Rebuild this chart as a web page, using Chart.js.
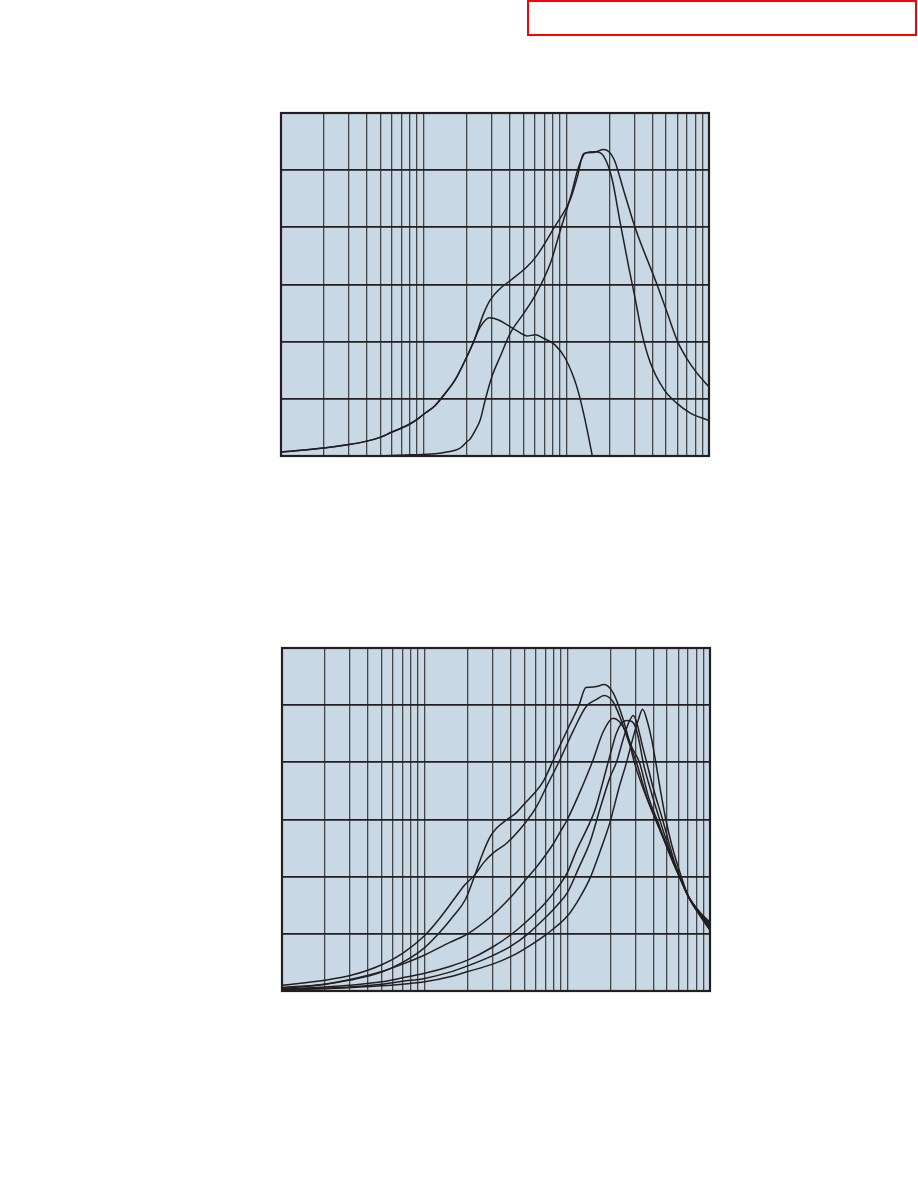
<!DOCTYPE html>
<html>
<head>
<meta charset="utf-8">
<script src="https://cdn.jsdelivr.net/npm/chart.js@4/dist/chart.umd.min.js"></script>
<style>
  body { margin: 0; background: #fff; width: 918px; height: 1188px; position: relative; overflow: hidden; }
  .box { position: absolute; left: 527px; top: 0; width: 390px; height: 36px; border: 2px solid #ff0000; box-sizing: border-box; }
  .plot { position: absolute; width: 438px; height: 353px; }
</style>
</head>
<body>
<div class="box"></div>
<div class="plot" style="left:276px;top:108px"><canvas id="upper"></canvas></div>
<div class="plot" style="left:277px;top:643px"><canvas id="lower"></canvas></div>
<script>
// grid positions (log frequency axis, 3 decades) and level range
const xTicks = [1, 2, 3, 4, 5, 6, 7, 8, 9, 10, 20, 30, 40, 50, 60, 70, 80, 90, 100,
  200, 300, 400, 500, 600, 700, 800, 900, 1000]
const yTicks = [0, 1, 2, 3, 4, 5, 6]

// upper chart
const upAFreq = [1, 2, 3, 4, 5, 6, 7, 8, 9, 10, 12, 14, 16.6, 20.1, 22.4, 26.3, 29.3, 34.4, 40.5, 53, 62.3, 81.5, 107, 120, 132, 155, 183, 215, 252, 305, 432, 510, 603, 701, 824, 1000]
const upAVal = [0.07, 0.14, 0.2, 0.26, 0.33, 0.42, 0.49, 0.56, 0.64, 0.73, 0.88, 1.08, 1.33, 1.74, 2.0, 2.49, 2.73, 2.93, 3.07, 3.31, 3.51, 3.98, 4.5, 4.9, 5.29, 5.31, 5.36, 5.2, 4.65, 3.98, 3.0, 2.5, 2.0, 1.7, 1.45, 1.21]

const upBFreq = [1, 5, 8, 12, 16.6, 18.1, 20.1, 21.2, 23, 24.9, 27, 30.1, 34.4, 40.5, 50.1, 60.5, 77.3, 90.8, 107, 122, 136, 160, 183, 209, 239, 274, 305, 339, 388, 484, 597, 740, 1000]
const upBVal = [0, 0.005, 0.02, 0.04, 0.1, 0.14, 0.25, 0.3, 0.45, 0.63, 0.98, 1.39, 1.74, 2.15, 2.49, 2.81, 3.37, 3.95, 4.53, 5.06, 5.3, 5.32, 5.24, 4.85, 4.07, 3.3, 2.73, 2.14, 1.63, 1.16, 0.92, 0.75, 0.62]

const upCFreq = [1, 2, 3, 4, 5, 6, 7, 8, 9, 10, 12, 14, 16.6, 20.1, 22.4, 24.9, 29, 33.5, 40.5, 46.3, 53, 60.5, 69.2, 83.6, 98.2, 112, 122, 132, 142, 152]
const upCVal = [0.07, 0.14, 0.2, 0.26, 0.33, 0.42, 0.49, 0.56, 0.64, 0.73, 0.88, 1.08, 1.33, 1.74, 2.0, 2.26, 2.42, 2.38, 2.26, 2.17, 2.1, 2.12, 2.06, 1.94, 1.71, 1.39, 1.1, 0.75, 0.38, 0]

// lower chart
const loAFreq = [1, 2, 3, 5, 7, 10, 13, 16, 19.3, 22.6, 25, 28.8, 32, 37.8, 44, 50.6, 57.8, 68, 80, 100, 120, 135, 156, 181, 209, 234, 260, 295, 345, 423, 525, 600, 706, 850, 1000]
const loAVal = [0.06, 0.12, 0.19, 0.33, 0.5, 0.76, 1.05, 1.32, 1.6, 2.04, 2.35, 2.7, 2.85, 3.0, 3.12, 3.29, 3.44, 3.67, 4.05, 4.57, 4.98, 5.31, 5.32, 5.36, 5.22, 4.92, 4.55, 4.0, 3.5, 2.95, 2.4, 2.05, 1.65, 1.38, 1.2]

const loBFreq = [1, 2, 3, 5, 7, 10, 13, 16, 19, 22.6, 26, 30.4, 37.7, 50.6, 61, 71.6, 89, 110, 136, 160, 181, 209, 240, 270, 305, 360, 430, 530, 610, 706, 850, 1000]
const loBVal = [0.1, 0.19, 0.27, 0.46, 0.66, 0.97, 1.3, 1.6, 1.85, 2.04, 2.25, 2.42, 2.59, 2.94, 3.23, 3.58, 4.05, 4.55, 4.98, 5.1, 5.17, 5.06, 4.72, 4.35, 4.0, 3.4, 2.92, 2.35, 2.0, 1.65, 1.37, 1.16]

const loCFreq = [1, 2, 3, 5, 7, 10, 15, 20, 30, 40, 50, 60, 70, 80, 90, 100, 122, 152, 178, 209, 230, 255, 285, 320, 370, 440, 540, 620, 706, 850, 1000]
const loCVal = [0.04, 0.12, 0.2, 0.34, 0.47, 0.63, 0.85, 1.0, 1.33, 1.64, 1.92, 2.15, 2.37, 2.58, 2.8, 3.0, 3.47, 4.05, 4.53, 4.77, 4.72, 4.55, 4.25, 4.0, 3.4, 2.9, 2.3, 1.96, 1.65, 1.36, 1.13]

const loDFreq = [1, 2, 3, 5, 7, 10, 15, 20, 30, 40, 50, 70, 85, 100, 116, 135, 156, 175, 198, 220, 239, 260, 281, 300, 320, 340, 380, 450, 550, 630, 706, 850, 1000]
const loDVal = [0.03, 0.07, 0.1, 0.16, 0.23, 0.31, 0.43, 0.54, 0.77, 0.98, 1.18, 1.54, 1.8, 2.07, 2.46, 2.8, 3.16, 3.6, 4.1, 4.5, 4.68, 4.73, 4.72, 4.62, 4.35, 4.0, 3.55, 2.95, 2.3, 1.93, 1.65, 1.34, 1.1]

const loEFreq = [1, 2, 3, 5, 7, 10, 15, 20, 30, 40, 53, 70, 85, 100, 120, 144, 170, 200, 221, 246, 270, 290, 310, 335, 360, 400, 465, 560, 640, 706, 850, 1000]
const loEVal = [0.02, 0.05, 0.07, 0.12, 0.17, 0.22, 0.33, 0.44, 0.62, 0.78, 1.0, 1.28, 1.5, 1.72, 2.15, 2.6, 3.2, 3.75, 4.0, 4.4, 4.7, 4.82, 4.65, 4.3, 4.0, 3.55, 3.0, 2.28, 1.9, 1.65, 1.33, 1.08]

const loFFreq = [1, 2, 3, 5, 7, 10, 15, 20, 30, 40, 55, 72, 100, 120, 144, 170, 199, 230, 260, 290, 315, 337, 365, 390, 420, 450, 490, 540, 620, 706, 850, 1000]
const loFVal = [0.02, 0.04, 0.06, 0.09, 0.12, 0.16, 0.25, 0.34, 0.47, 0.6, 0.8, 1.0, 1.31, 1.6, 1.97, 2.45, 2.95, 3.55, 4.0, 4.45, 4.75, 4.93, 4.7, 4.4, 3.95, 3.5, 3.0, 2.55, 2.05, 1.65, 1.32, 1.06]

const ink = '#231f20'

const frame = {
  id: 'frame',
  beforeDraw(chart) {
    const { ctx, chartArea: a } = chart
    ctx.save()
    ctx.fillStyle = '#c8d8e4'
    ctx.fillRect(a.left, a.top, a.width, a.height)
    ctx.restore()
  },
  afterDraw(chart) {
    const { ctx, chartArea: a } = chart
    ctx.save()
    ctx.strokeStyle = ink
    ctx.lineWidth = 2.2
    ctx.strokeRect(a.left, a.top, a.width, a.height)
    ctx.restore()
  }
}

function pts(freq, val) {
  return freq.map((x, i) => ({ x, y: val[i] }))
}

function curve(freq, val) {
  return {
    data: pts(freq, val),
    borderColor: ink,
    borderWidth: 1.5,
    pointRadius: 0,
    cubicInterpolationMode: 'monotone',
    fill: false
  }
}

function makeChart(id, series) {
  new Chart(document.getElementById(id), {
    type: 'line',
    data: { datasets: series.map(s => curve(s[0], s[1])) },
    options: {
      responsive: true,
      maintainAspectRatio: false,
      animation: false,
      layout: { padding: 5 },
      plugins: { legend: { display: false }, tooltip: { enabled: false } },
      scales: {
        x: {
          type: 'logarithmic',
          min: 1,
          max: 1000,
          afterBuildTicks: s => { s.ticks = xTicks.map(v => ({ value: v })) },
          ticks: { display: false },
          grid: { color: '#454545', lineWidth: 1.3, drawTicks: false },
          border: { display: false }
        },
        y: {
          type: 'linear',
          min: 0,
          max: 6,
          afterBuildTicks: s => { s.ticks = yTicks.map(v => ({ value: v })) },
          ticks: { display: false },
          grid: { color: ink, lineWidth: 1.7, drawTicks: false },
          border: { display: false }
        }
      }
    },
    plugins: [frame]
  })
}

document.addEventListener('DOMContentLoaded', () => {
  makeChart('upper', [[upAFreq, upAVal], [upBFreq, upBVal], [upCFreq, upCVal]])
  makeChart('lower', [[loAFreq, loAVal], [loBFreq, loBVal], [loCFreq, loCVal],
    [loDFreq, loDVal], [loEFreq, loEVal], [loFFreq, loFVal]])
})
</script>
</body>
</html>
